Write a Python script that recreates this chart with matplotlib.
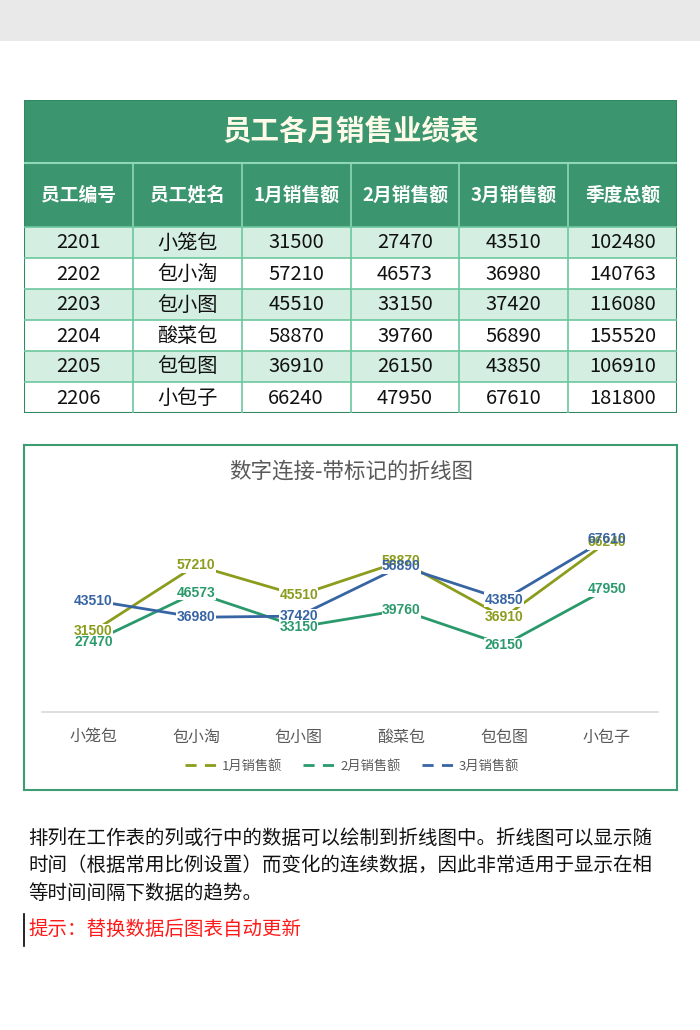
#!/usr/bin/env python3

import matplotlib
matplotlib.use("Agg")
import matplotlib.pyplot as plt
from matplotlib.patches import Rectangle
from matplotlib.lines import Line2D

plt.rcParams['font.family'] = ['Noto Sans CJK SC', 'DejaVu Sans']

# data
table_title = "员工各月销售业绩表"
headers = ["员工编号", "员工姓名", "1月销售额", "2月销售额", "3月销售额", "季度总额"]
emp_ids = ["2201", "2202", "2203", "2204", "2205", "2206"]
names = ["小笼包", "包小淘", "包小图", "酸菜包", "包包图", "小包子"]
jan = [31500, 57210, 45510, 58870, 36910, 66240]
feb = [27470, 46573, 33150, 39760, 26150, 47950]
mar = [43510, 36980, 37420, 56890, 43850, 67610]
totals = [102480, 140763, 116080, 155520, 106910, 181800]
series_names = ["1月销售额", "2月销售额", "3月销售额"]
chart_title = "数字连接-带标记的折线图"
desc_lines = [
    "排列在工作表的列或行中的数据可以绘制到折线图中。折线图可以显示随",
    "时间（根据常用比例设置）而变化的连续数据，因此非常适用于显示在相",
    "等时间间隔下数据的趋势。",
]
tip_text = "提示：替换数据后图表自动更新"

W, H = 700, 1030
GREEN = "#3b9670"
LIGHT = "#d5eee2"
GRID = "#6cc79e"
COLORS = ["#8c9c1c", "#2a9a6c", "#3764a3"]


def fig_rect(x0, y0, x1, y1):
    """Pixel box (top-left origin) -> figure fraction rect."""
    return [x0 / W, 1 - y1 / H, (x1 - x0) / W, (y1 - y0) / H]


def draw_table(fig):
    ax = fig.add_axes(fig_rect(24, 100, 677, 413))
    ax.set_xlim(0, 6)
    ax.set_ylim(313, 0)
    ax.axis("off")

    # title row
    ax.add_patch(Rectangle((0, 0), 6, 63, facecolor=GREEN, edgecolor="none"))
    ax.text(3, 32, table_title, ha="center", va="center", fontsize=20.5,
            fontweight="bold", color="#fffbe8")
    # header row
    ax.add_patch(Rectangle((0, 63), 6, 64, facecolor=GREEN, edgecolor="none"))
    for j, h in enumerate(headers):
        ax.text(j + 0.5, 95, h, ha="center", va="center", fontsize=13.5,
                fontweight="bold", color="white")

    rows = list(zip(emp_ids, names, jan, feb, mar, totals))
    for i, row in enumerate(rows):
        top = 127 + i * 31
        fc = LIGHT if i % 2 == 0 else "white"
        ax.add_patch(Rectangle((0, top), 6, 31, facecolor=fc, edgecolor="none"))
        for j, val in enumerate(row):
            ax.text(j + 0.5, top + 16, str(val), ha="center", va="center",
                    fontsize=14.5, color="#111111")
        ax.plot([0, 6], [top, top], color=GRID, lw=1.2)

    ax.plot([0, 6], [63, 63], color="#8fd8b6", lw=1.5)
    for j in range(1, 6):
        ax.plot([j, j], [63, 127], color="#8fd8b6", lw=1.2)
        ax.plot([j, j], [127, 313], color=GRID, lw=1.2)
    ax.add_patch(Rectangle((0, 0), 6, 313, facecolor="none",
                           edgecolor="#2f8a62", lw=1.5))


def draw_chart(fig):
    # frame
    frame = fig.add_axes(fig_rect(24, 445, 677, 790))
    frame.set_xticks([])
    frame.set_yticks([])
    for s in frame.spines.values():
        s.set_color("#3f9c72")
        s.set_linewidth(1.5)
    fig.text(351 / W, 1 - 472 / H, chart_title, ha="center", va="center",
             fontsize=15.5, color="#595959")

    ax = fig.add_axes(fig_rect(42, 507, 658, 712))
    x = range(len(names))
    handles = []
    label_font = ['Liberation Sans', 'DejaVu Sans']
    for vals, name, c in zip([jan, feb, mar], series_names, COLORS):
        ax.plot(x, vals, color=c, lw=2, zorder=2)
        for xi, v in zip(x, vals):
            # white box under the label hides the line, text drawn on top
            ax.text(xi, v, str(v), ha="center", va="center", fontsize=10,
                    fontweight="bold", color="none", zorder=3,
                    family=label_font,
                    bbox=dict(facecolor="white", edgecolor="none", pad=0.3))
            ax.text(xi, v, str(v), ha="center", va="center", fontsize=10,
                    fontweight="bold", color=c, zorder=4, family=label_font)
        handles.append(Line2D([0], [0], color=c, lw=2, dashes=(4, 3)))

    ax.set_xlim(-0.5, 5.5)
    ax.set_ylim(0, 80000)
    ax.set_yticks([])
    ax.set_xticks(list(x))
    ax.set_xticklabels(names, fontsize=11.5, color="#595959")
    ax.tick_params(axis="x", length=0, pad=12)
    for side in ["top", "left", "right"]:
        ax.spines[side].set_visible(False)
    ax.spines["bottom"].set_color("#d9d9d9")
    ax.spines["bottom"].set_linewidth(1.2)
    ax.patch.set_alpha(0)

    fig.legend(handles, series_names, loc="center",
               bbox_to_anchor=(352 / W, 1 - 766 / H), ncol=3, frameon=False,
               fontsize=9.5, labelcolor="#595959", handlelength=2.6,
               handletextpad=0.2, columnspacing=1.6)


def draw_text(fig):
    for k, line in enumerate(desc_lines):
        fig.text(28 / W, 1 - (838 + k * 27.5) / H, line, ha="left",
                 va="center", fontsize=14, color="#111111")
    fig.text(28 / W, 1 - 929 / H, tip_text, ha="left", va="center",
             fontsize=14, color="#ff1a1a")
    fig.add_artist(Line2D([24 / W, 24 / W], [1 - 914 / H, 1 - 946 / H],
                          color="black", lw=1.2))


def main():
    fig = plt.figure(figsize=(7, 10.3), dpi=100)
    fig.patches.append(Rectangle((0, 1 - 41 / H), 1, 41 / H,
                                 transform=fig.transFigure,
                                 facecolor="#e9e9e9", edgecolor="none"))
    draw_table(fig)
    draw_chart(fig)
    draw_text(fig)
    fig.savefig("out.png", dpi=100)
    plt.close(fig)


if __name__ == "__main__":
    main()
